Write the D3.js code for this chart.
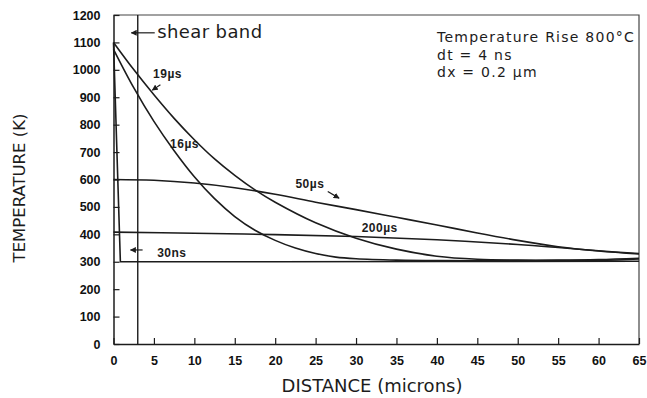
<!DOCTYPE html>
<html>
<head>
<meta charset="utf-8">
<script src="https://cdn.jsdelivr.net/npm/d3@7"></script>
<style>
  body { margin: 0; background: #fff; }
  svg { display: block; }
  .tick text { font-family: "Liberation Sans", Arial, sans-serif; font-weight: bold; font-size: 12.5px; fill: #111; }
</style>
</head>
<body>
<div id="chart"></div>
<script>
// tick labels
const xTickValues = [0, 5, 10, 15, 20, 25, 30, 35, 40, 45, 50, 55, 60, 65];
const yTickValues = [0, 100, 200, 300, 400, 500, 600, 700, 800, 900, 1000, 1100, 1200];

// temperature profiles, [distance (microns), temperature (K)]
const profile30ns = [[0, 1100], [0.85, 300], [20, 300], [40, 301], [65, 302]];
const profile16us = [[0, 1075], [2.5, 935], [5, 812], [7.5, 705], [10, 610], [12.5, 530], [15, 465],
  [17.5, 415], [20, 378], [22.5, 350], [25, 330], [27.5, 317], [30, 311], [35, 306], [40, 304],
  [50, 304], [60, 305], [65, 310]];
const profile19us = [[0, 1100], [2.5, 1001], [5, 909], [7.5, 823], [10, 745], [12.5, 675], [15, 615],
  [17.5, 562], [20, 517], [25, 442], [30, 386], [35, 346], [40, 320], [45, 309], [50, 306],
  [55, 306], [60, 308], [65, 313]];
const profile50us = [[0, 600], [5, 597], [10, 587], [15, 570], [20, 546], [25, 517], [30, 490],
  [35, 462], [40, 434], [45, 405], [50, 378], [55, 355], [60, 339], [65, 328]];
const profile200us = [[0, 408], [10, 404], [20, 399], [30, 392], [40, 380], [50, 363], [55, 352],
  [60, 340], [65, 330]];

const shearBand = 3;

const svgWidth = 647;
const svgHeight = 398;
const margin = { top: 15, right: 8, bottom: 54, left: 113.5 };
const width = svgWidth - margin.left - margin.right;
const height = svgHeight - margin.top - margin.bottom;
const ink = "#1c1c1c";

const svg = d3.select("#chart")
  .append("svg")
  .attr("width", svgWidth)
  .attr("height", svgHeight);

const defs = svg.append("defs");
defs.append("marker")
  .attr("id", "arrow")
  .attr("viewBox", "0 0 10 10")
  .attr("refX", 9)
  .attr("refY", 5)
  .attr("markerWidth", 5)
  .attr("markerHeight", 5)
  .attr("orient", "auto")
  .append("path")
  .attr("d", "M0,0 L10,5 L0,10 Z")
  .attr("fill", ink);

const g = svg.append("g")
  .attr("transform", `translate(${margin.left},${margin.top})`);

const xScale = d3.scaleLinear().domain([0, 65]).range([0, width]);
const yScale = d3.scaleLinear().domain([0, 1200]).range([height, 0]);

// frame (top and right)
g.append("path")
  .attr("d", `M0,0 H${width} V${height}`)
  .attr("fill", "none")
  .attr("stroke", "#444")
  .attr("stroke-width", 1.2);

// x axis, ticks pointing inward
const xAxis = d3.axisBottom(xScale)
  .tickValues(xTickValues)
  .tickFormat(d3.format("d"))
  .tickSizeInner(-6)
  .tickSizeOuter(0)
  .tickPadding(12);

const xAxisGroup = g.append("g")
  .attr("transform", `translate(0,${height})`)
  .call(xAxis);

// y axis
const yAxis = d3.axisLeft(yScale)
  .tickValues(yTickValues)
  .tickFormat(d3.format("d"))
  .tickSizeInner(-6)
  .tickSizeOuter(0)
  .tickPadding(13);

const yAxisGroup = g.append("g").call(yAxis);

[xAxisGroup, yAxisGroup].forEach(ax => {
  ax.select(".domain").attr("stroke", ink).attr("stroke-width", 1.5);
  ax.selectAll(".tick line").attr("stroke", ink).attr("stroke-width", 1.2);
});

// shear band line
g.append("line")
  .attr("x1", xScale(shearBand))
  .attr("x2", xScale(shearBand))
  .attr("y1", yScale(0))
  .attr("y2", yScale(1200))
  .attr("stroke", ink)
  .attr("stroke-width", 1.4);

// profiles
const line = d3.line()
  .x(d => xScale(d[0]))
  .y(d => yScale(d[1]));

const smoothLine = d3.line()
  .curve(d3.curveCatmullRom.alpha(0.5))
  .x(d => xScale(d[0]))
  .y(d => yScale(d[1]));

g.append("path")
  .datum(profile30ns)
  .attr("d", line)
  .attr("fill", "none")
  .attr("stroke", ink)
  .attr("stroke-width", 1.6);

[profile16us, profile19us, profile50us, profile200us].forEach(p => {
  g.append("path")
    .datum(p)
    .attr("d", smoothLine)
    .attr("fill", "none")
    .attr("stroke", ink)
    .attr("stroke-width", 1.6);
});

// curve labels
function label(text, x, y, size, weight) {
  return g.append("text")
    .attr("x", xScale(x))
    .attr("y", yScale(y))
    .attr("font-family", "Liberation Sans, Arial, sans-serif")
    .attr("font-size", size)
    .attr("font-weight", weight)
    .attr("fill", ink)
    .text(text);
}

function arrow(x1, y1, x2, y2) {
  g.append("line")
    .attr("x1", xScale(x1)).attr("y1", yScale(y1))
    .attr("x2", xScale(x2)).attr("y2", yScale(y2))
    .attr("stroke", ink)
    .attr("stroke-width", 1.2)
    .attr("marker-end", "url(#arrow)");
}

label("19µs", 4.9, 971, "12px", "bold").attr("letter-spacing", 0.5);
arrow(5.8, 946, 4.8, 926);
label("16µs", 7.0, 715, "12px", "bold").attr("letter-spacing", 0.5);
label("50µs", 22.5, 569, "12px", "bold").attr("letter-spacing", 0.5);
arrow(26.5, 556, 27.9, 532);
label("200µs", 30.7, 407, "12px", "bold").attr("letter-spacing", 0.5);
label("30ns", 5.4, 318, "12px", "bold").attr("letter-spacing", 0.5);
arrow(3.6, 343, 2.1, 343);

label("shear band", 5.4, 1117, "18px", "normal")
  .attr("font-family", "DejaVu Sans, sans-serif")
  .attr("letter-spacing", 0.4);
arrow(5.1, 1135, 2.2, 1135);

// run info, top right
const infoLines = ["Temperature Rise 800°C", "dt = 4 ns", "dx = 0.2 µm"];
const info = g.append("text")
  .attr("x", width - 202)
  .attr("y", 27)
  .attr("font-family", "DejaVu Sans, sans-serif")
  .attr("font-size", "14px")
  .attr("letter-spacing", 1.25)
  .attr("fill", ink);
info.selectAll("tspan")
  .data(infoLines)
  .enter()
  .append("tspan")
  .attr("x", width - 202)
  .attr("dy", (d, i) => i === 0 ? 0 : 17.5)
  .text(d => d);

// axis titles
svg.append("text")
  .attr("transform", `translate(25,188) rotate(-90)`)
  .attr("text-anchor", "middle")
  .attr("font-family", "DejaVu Sans, sans-serif")
  .attr("font-size", "16.5px")
  .attr("fill", ink)
  .text("TEMPERATURE (K)");

svg.append("text")
  .attr("x", 372)
  .attr("y", 392)
  .attr("text-anchor", "middle")
  .attr("font-family", "DejaVu Sans, sans-serif")
  .attr("font-size", "18px")
  .attr("fill", ink)
  .text("DISTANCE (microns)");
</script>
</body>
</html>
